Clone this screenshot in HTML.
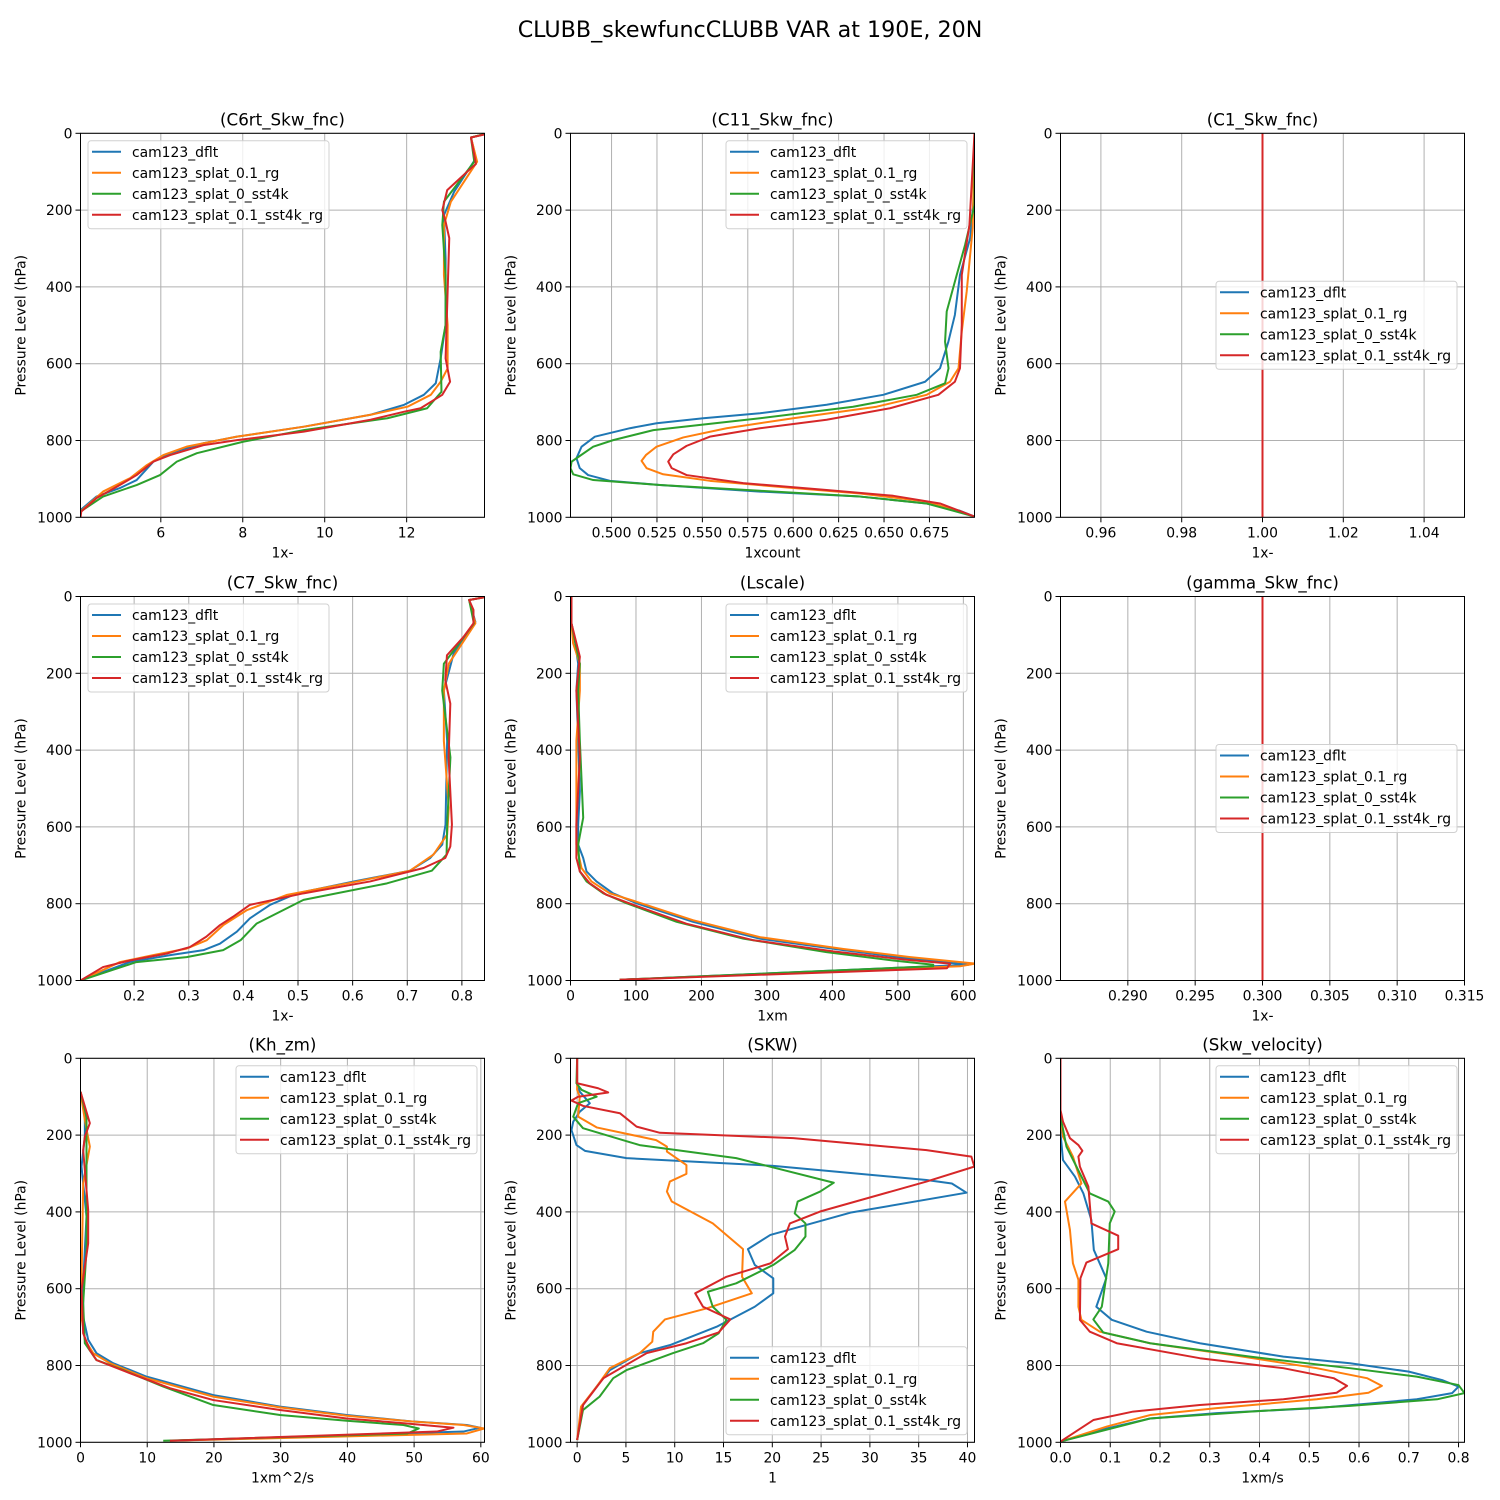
<!DOCTYPE html>
<html><head><meta charset="utf-8"><title>CLUBB_skewfuncCLUBB VAR at 190E, 20N</title>
<style>
html,body{margin:0;padding:0;background:#fff;}
svg{display:block;font-family:"DejaVu Sans","Liberation Sans",sans-serif;}
</style></head>
<body>
<svg id="fig" width="1500" height="1500" viewBox="0 0 1500 1500" xmlns="http://www.w3.org/2000/svg">
<text x="750" y="37" text-anchor="middle" font-size="22.2">CLUBB_skewfuncCLUBB VAR at 190E, 20N</text>
</svg>
<script>
// ---------- data: [value, pressure hPa] ----------
const seriesNames = ["cam123_dflt","cam123_splat_0.1_rg","cam123_splat_0_sst4k","cam123_splat_0.1_sst4k_rg"];
const yTicks = [0,200,400,600,800,1000];

const c6_dflt = [[13.9,2],[13.57,11],[13.69,65],[13.16,152],[12.91,213],[12.95,326],[12.95,499],[12.83,586],[12.71,651],[12.42,681],[11.94,707],[11.12,733],[9.49,764],[7.86,790],[7.04,807],[6.23,833],[5.82,855],[5.41,903],[5.0,924],[4.43,946],[4.04,981],[4.04,1000]];
const c6_rg = [[13.9,2],[13.57,11],[13.72,74],[13.08,178],[12.91,239],[12.91,369],[13.0,499],[13.0,612],[12.83,647],[12.59,681],[12.02,712],[11.12,733],[9.49,764],[7.86,790],[6.63,816],[6.06,838],[5.66,864],[5.25,898],[4.59,933],[4.04,985],[4.04,1000]];
const c6_sst4k = [[13.9,2],[13.57,11],[13.65,74],[12.91,178],[12.87,239],[12.95,369],[12.95,499],[12.83,569],[12.85,673],[12.5,716],[11.53,742],[9.49,773],[8.02,803],[6.88,833],[6.39,855],[5.98,890],[5.41,916],[4.59,946],[4.04,985],[4.04,1000]];
const c6_sst4krg = [[13.9,3],[13.57,11],[13.69,80],[13.57,91],[12.99,148],[12.87,200],[12.95,230],[13.04,273],[13.0,412],[12.95,586],[13.06,647],[12.87,681],[12.34,716],[11.94,725],[11.12,746],[9.49,777],[7.86,799],[7.04,812],[6.23,838],[5.82,855],[5.41,890],[5.0,916],[4.43,950],[4.06,985],[4.04,1000]];

const c11_dflt = [[0.6998,0],[0.6998,150],[0.6974,273],[0.6918,369],[0.689,473],[0.6854,543],[0.6808,612],[0.6726,647],[0.6496,681],[0.6184,707],[0.5817,729],[0.5505,742],[0.5248,755],[0.5101,768],[0.4908,790],[0.4835,816],[0.4807,846],[0.4825,872],[0.4871,890],[0.4991,905],[0.5266,916],[0.5817,933],[0.6368,946],[0.6735,964],[0.6918,983],[0.6998,998]];
const c11_rg = [[0.6998,0],[0.6988,247],[0.6955,412],[0.6928,516],[0.691,612],[0.6863,647],[0.6735,681],[0.6459,712],[0.6,742],[0.5633,768],[0.5395,792],[0.5248,816],[0.5189,838],[0.5165,853],[0.5193,872],[0.5284,888],[0.5542,905],[0.5909,920],[0.6368,938],[0.6735,959],[0.6998,998]];
const c11_sst4k = [[0.6998,0],[0.6998,187],[0.6946,291],[0.69,369],[0.6845,464],[0.6836,543],[0.6855,612],[0.6836,651],[0.668,681],[0.633,712],[0.5817,742],[0.523,773],[0.5009,799],[0.4899,816],[0.478,855],[0.4774,872],[0.4789,888],[0.4899,903],[0.5266,916],[0.5817,931],[0.6368,946],[0.6735,964],[0.6998,998]];
const c11_sst4krg = [[0.6998,0],[0.697,239],[0.6928,369],[0.6928,499],[0.6918,612],[0.689,647],[0.6799,681],[0.6533,716],[0.6184,746],[0.5817,768],[0.5541,790],[0.5413,814],[0.534,836],[0.5312,855],[0.5331,872],[0.5413,890],[0.5725,911],[0.6184,929],[0.6551,944],[0.6808,964],[0.6998,998]];

const c1_all = [[1.0,0],[1.0,1000]];

const c7_dflt = [[0.8414,2],[0.8133,9],[0.8247,66],[0.785,148],[0.767,245],[0.773,376],[0.77,594],[0.764,646],[0.742,681],[0.705,714],[0.602,742],[0.498,773],[0.449,803],[0.412,838],[0.388,873],[0.357,904],[0.327,921],[0.266,934],[0.192,952],[0.1018,1000]];
const c7_rg = [[0.8414,2],[0.8133,9],[0.8247,70],[0.776,175],[0.767,245],[0.767,376],[0.776,550],[0.773,620],[0.748,672],[0.705,714],[0.602,744],[0.48,777],[0.406,817],[0.363,856],[0.333,895],[0.296,917],[0.235,934],[0.174,952],[0.1018,1000]];
const c7_sst4k = [[0.8414,2],[0.8133,9],[0.822,70],[0.767,175],[0.764,245],[0.779,419],[0.773,594],[0.772,672],[0.745,714],[0.663,747],[0.51,790],[0.424,852],[0.395,895],[0.363,921],[0.296,939],[0.204,952],[0.1018,1000]];
const c7_sst4krg = [[0.8414,2],[0.8133,9],[0.8212,35],[0.8212,70],[0.8032,105],[0.7727,153],[0.7696,218],[0.7788,279],[0.7757,419],[0.7818,594],[0.7788,651],[0.7696,681],[0.7299,707],[0.632,742],[0.51,773],[0.412,803],[0.381,834],[0.357,856],[0.332,886],[0.302,913],[0.259,930],[0.192,948],[0.143,965],[0.1018,1000]];

const ls_dflt = [[1.5,0],[1.5,70],[6.6,114],[11.7,175],[9,245],[11.7,376],[14.3,507],[11.7,594],[11.7,646],[19.4,681],[24.5,716],[39.7,742],[65,773],[101,799],[187,847],[289,891],[417,921],[519,943],[608,959],[75,998]];
const ls_rg = [[1.5,0],[1.5,70],[4,122],[14.3,175],[14.3,245],[9,376],[9,594],[9,646],[16.8,707],[32,742],[60,773],[101,795],[187,843],[289,887],[417,918],[519,939],[618,956],[595,963],[75,998]];
const ls_sst4k = [[1.5,0],[1.5,70],[6.6,114],[14.3,175],[11.7,245],[14.3,376],[19.4,576],[11.7,646],[14.3,716],[24.5,742],[50,773],[86,799],[162,847],[264,891],[391,926],[493,948],[554,959],[554,963],[75,998]];
const ls_sst4krg = [[1.5,0],[1.5,70],[14.3,157],[9,245],[14.3,419],[9,594],[9,681],[14.3,716],[29.5,747],[55,777],[96,803],[177,852],[279,895],[401,924],[513,946],[580,956],[575,968],[75,998]];

const gm_all = [[0.3,0],[0.3,1000]];

const kh_dflt = [[0,87],[0.65,152],[0.65,204],[0.15,282],[0.9,412],[0.4,586],[0.4,673],[1.15,733],[2.4,768],[4.9,794],[9.9,829],[19.9,877],[29.9,907],[39.9,929],[49.9,946],[57.9,955],[59.9,962],[57.4,972],[13.4,996]];
const kh_rg = [[0,87],[0.65,161],[1.4,230],[0.4,326],[0.15,586],[0.15,673],[0.65,733],[1.9,768],[4.4,794],[9.9,833],[19.9,881],[29.9,909],[39.9,931],[49.9,946],[57.4,955],[60.5,964],[57.9,977],[13.4,996]];
const kh_sst4k = [[0,87],[0.9,152],[0.9,204],[0.9,412],[0.9,499],[0.4,638],[0.65,742],[2.4,786],[6.4,812],[12.4,855],[19.9,903],[29.9,929],[39.9,944],[48.4,955],[50.7,964],[49,977],[12.4,996]];
const kh_sst4krg = [[0,87],[1.4,169],[0.65,204],[0.4,239],[1.15,395],[1.15,482],[0.15,603],[0.4,716],[1.4,760],[2.4,786],[7.4,820],[13.4,859],[19.9,890],[29.9,916],[39.9,938],[48.9,951],[55.9,962],[53.4,972],[13.4,996]];

const skw_dflt = [[0,0],[0,65],[0.27,87],[1.3,117],[0.27,139],[-0.4,165],[-0.58,187],[-0.07,226],[0.8,241],[5.06,260],[20.1,280],[35.8,317],[38.4,326],[39.9,350],[28,402],[19.8,460],[17.5,497],[18.2,538],[20.1,573],[20.1,612],[18.2,647],[14.3,699],[9.5,747],[6.4,768],[3.35,812],[2,855],[0.6,903],[0,994]];
const skw_rg = [[0,0],[0,82],[0.27,100],[0.1,152],[2,180],[8.1,213],[9.2,230],[9.2,243],[11.2,278],[11.2,301],[9.5,321],[9.2,347],[9.7,373],[13.9,430],[17.0,497],[16.9,569],[17.9,612],[13.3,651],[9.0,680],[7.8,712],[7.7,738],[6.4,768],[3.35,807],[2,855],[0.4,907],[0,994]];
const skw_sst4k = [[0,0],[-0.07,65],[0.45,82],[2,100],[0.1,117],[-0.4,152],[0.6,182],[6.4,226],[16.3,260],[26.3,324],[24.9,347],[22.6,373],[22.3,404],[23.4,430],[23.4,464],[22.3,499],[20.1,538],[16.3,586],[13.4,608],[13.9,647],[15.3,681],[14.5,716],[12.9,742],[9.8,768],[5.06,812],[3.7,833],[2.3,881],[0.6,916],[0,994]];
const skw_sst4krg = [[0,0],[0,65],[2.15,78],[3.18,89],[0.1,100],[-0.58,110],[0.62,124],[4.38,143],[6.09,178],[8.48,194],[22.15,208],[35.8,239],[40.4,256],[40.7,282],[35.8,321],[24.9,399],[21.8,430],[21.3,464],[21.6,497],[19.8,534],[15.3,569],[12.1,612],[12.9,647],[15.7,680],[14.5,714],[11.2,742],[7.1,768],[2.7,833],[0.6,903],[0,994]];

const sv_dflt = [[0,0],[0,195],[0.005,265],[0.029,308],[0.046,352],[0.062,421],[0.067,499],[0.092,573],[0.072,647],[0.103,681],[0.173,712],[0.28,742],[0.448,777],[0.582,794],[0.7,816],[0.767,838],[0.8,855],[0.787,872],[0.716,888],[0.515,911],[0.314,924],[0.18,938],[0.093,964],[0,998]];
const sv_rg = [[0,0],[0,152],[0.005,204],[0.025,256],[0.042,326],[0.009,373],[0.019,447],[0.025,534],[0.036,577],[0.036,647],[0.042,681],[0.079,712],[0.18,742],[0.347,773],[0.515,807],[0.616,833],[0.646,853],[0.619,871],[0.515,888],[0.314,911],[0.18,929],[0.093,959],[0,998]];
const sv_sst4k = [[0,0],[0,152],[0.012,230],[0.039,300],[0.059,352],[0.096,373],[0.109,399],[0.099,430],[0.096,534],[0.083,647],[0.066,680],[0.086,714],[0.18,742],[0.381,777],[0.582,807],[0.716,829],[0.8,851],[0.812,872],[0.757,888],[0.582,905],[0.381,920],[0.18,938],[0,998]];
const sv_sst4krg = [[0,0],[0,135],[0.005,165],[0.019,208],[0.036,226],[0.044,241],[0.036,256],[0.039,282],[0.056,334],[0.062,430],[0.116,462],[0.116,497],[0.052,532],[0.04,573],[0.039,681],[0.059,712],[0.113,742],[0.28,781],[0.448,807],[0.549,833],[0.576,853],[0.555,871],[0.448,888],[0.28,903],[0.146,920],[0.066,942],[0,998]];

const ticks_c6 = [6,8,10,12];
const ticks_c11 = [0.500,0.525,0.550,0.575,0.600,0.625,0.650,0.675];
const ticks_c1 = [0.96,0.98,1.00,1.02,1.04];
const ticks_c7 = [0.2,0.3,0.4,0.5,0.6,0.7,0.8];
const ticks_ls = [0,100,200,300,400,500,600];
const ticks_gm = [0.290,0.295,0.300,0.305,0.310,0.315];
const ticks_kh = [0,10,20,30,40,50,60];
const ticks_skw = [0,5,10,15,20,25,30,35,40];
const ticks_sv = [0.0,0.1,0.2,0.3,0.4,0.5,0.6,0.7,0.8];

// ---------- layout ----------
const colors = ["#1f77b4","#ff7f0e","#2ca02c","#d62728"];
const NS = "http://www.w3.org/2000/svg";
const svg = document.getElementById("fig");
function mk(tag, attrs, parent){const e=document.createElementNS(NS,tag);for(const k in attrs)e.setAttribute(k,attrs[k]);(parent||svg).appendChild(e);return e;}

const panels = [
 {id:"c6rt",title:"(C6rt_Skw_fnc)",col:0,row:0,xmin:4.04,xmax:13.9,ticks:ticks_c6,dec:0,xlabel:"1x-",data:[c6_dflt,c6_rg,c6_sst4k,c6_sst4krg],leg:"ul"},
 {id:"c11",title:"(C11_Skw_fnc)",col:1,row:0,xmin:0.4774,xmax:0.6998,ticks:ticks_c11,dec:3,xlabel:"1xcount",data:[c11_dflt,c11_rg,c11_sst4k,c11_sst4krg],leg:"ur"},
 {id:"c1",title:"(C1_Skw_fnc)",col:2,row:0,xmin:0.95,xmax:1.05,ticks:ticks_c1,dec:2,xlabel:"1x-",data:[c1_all,c1_all,c1_all,c1_all],leg:"cr"},
 {id:"c7",title:"(C7_Skw_fnc)",col:0,row:1,xmin:0.1018,xmax:0.8414,ticks:ticks_c7,dec:1,xlabel:"1x-",data:[c7_dflt,c7_rg,c7_sst4k,c7_sst4krg],leg:"ul"},
 {id:"lscale",title:"(Lscale)",col:1,row:1,xmin:0,xmax:617,ticks:ticks_ls,dec:0,xlabel:"1xm",data:[ls_dflt,ls_rg,ls_sst4k,ls_sst4krg],leg:"ur"},
 {id:"gamma",title:"(gamma_Skw_fnc)",col:2,row:1,xmin:0.285,xmax:0.315,ticks:ticks_gm,dec:3,xlabel:"1x-",data:[gm_all,gm_all,gm_all,gm_all],leg:"cr"},
 {id:"khzm",title:"(Kh_zm)",col:0,row:2,xmin:0,xmax:60.55,ticks:ticks_kh,dec:0,xlabel:"1xm^2/s",data:[kh_dflt,kh_rg,kh_sst4k,kh_sst4krg],leg:"ur"},
 {id:"skw",title:"(SKW)",col:1,row:2,xmin:-0.68,xmax:40.72,ticks:ticks_skw,dec:0,xlabel:"1",data:[skw_dflt,skw_rg,skw_sst4k,skw_sst4krg],leg:"lr"},
 {id:"skwvel",title:"(Skw_velocity)",col:2,row:2,xmin:0,xmax:0.812,ticks:ticks_sv,dec:1,xlabel:"1xm/s",data:[sv_dflt,sv_rg,sv_sst4k,sv_sst4krg],leg:"ur"}
];
const colL=[80.5,570.5,1060.5], rowT=[133.3,596.5,1058.3], W=404, H=384;
const FS=13.9;

panels.forEach(P=>{
 const L=colL[P.col], T=rowT[P.row], R=L+W, B=T+H;
 const g=mk("g",{});
 
 
 const xs=v=>L+(v-P.xmin)/(P.xmax-P.xmin)*W;
 const ys=p=>T+p/1000*H;
 const cp=mk("clipPath",{id:"clip-"+P.id},g); mk("rect",{x:L,y:T,width:W,height:H},cp);
 P.ticks.forEach(t=>{const x=xs(t);
   const gl=mk("line",{x1:x,x2:x,y1:T,y2:B,stroke:"#b0b0b0","stroke-width":1},g);
   
   
   const tk=mk("line",{x1:x,x2:x,y1:B,y2:B+5,stroke:"#000","stroke-width":1},g);
   
   
   const tl=mk("text",{x:x,y:B+20,"text-anchor":"middle","font-size":FS},g); tl.textContent=t.toFixed(P.dec);
   
   
 });
 yTicks.forEach(t=>{const y=ys(t);
   const gl=mk("line",{x1:L,x2:R,y1:y,y2:y,stroke:"#b0b0b0","stroke-width":1},g);
   
   
   const tk=mk("line",{x1:L-5,x2:L,y1:y,y2:y,stroke:"#000","stroke-width":1},g);
   
   
   const tl=mk("text",{x:L-8,y:y+5,"text-anchor":"end","font-size":FS},g); tl.textContent=String(t);
   
   
 });
 P.data.forEach((d,i)=>{
   const pts=d.map(q=>xs(q[0]).toFixed(2)+","+ys(q[1]).toFixed(2)).join(" ");
   const pl=mk("polyline",{points:pts,fill:"none",stroke:colors[i],"stroke-width":2,"stroke-linejoin":"round","clip-path":"url(#clip-"+P.id+")"},g);
   
   
 });
 const fr=mk("rect",{x:L,y:T,width:W,height:H,fill:"none",stroke:"#000","stroke-width":1},g);
 
 
 const ti=mk("text",{x:L+W/2,y:T-8,"text-anchor":"middle","font-size":16.7},g); ti.textContent=P.title;
 
 
 const xl=mk("text",{x:L+W/2,y:B+40,"text-anchor":"middle","font-size":FS},g); xl.textContent=P.xlabel;
 
 
 const yl=mk("text",{x:0,y:0,"text-anchor":"middle","font-size":FS,transform:"translate("+(L-55)+","+(T+H/2)+") rotate(-90)"},g); yl.textContent="Pressure Level (hPa)";
 
 
 const lw=241, lh=88;
 let lx = P.leg==="ul" ? L+7.5 : R-7.5-lw;
 let ly = P.leg==="lr" ? B-7.5-lh : (P.leg==="cr" ? T+H/2-lh/2 : T+7.5);
 const lg=mk("g",{},g);
 
 
 mk("rect",{x:lx,y:ly,width:lw,height:lh,rx:3,fill:"#fff","fill-opacity":0.8,stroke:"#d0d0d0","stroke-width":1},lg);
 seriesNames.forEach((n,i)=>{
   const yy=ly+11+i*21;
   const e=mk("g",{},lg);
   
   
   mk("line",{x1:lx+4,x2:lx+33,y1:yy,y2:yy,stroke:colors[i],"stroke-width":2},e);
   const t=mk("text",{x:lx+44,y:yy+5,"font-size":FS},e); t.textContent=n;
 });
});
</script>
</body></html>
